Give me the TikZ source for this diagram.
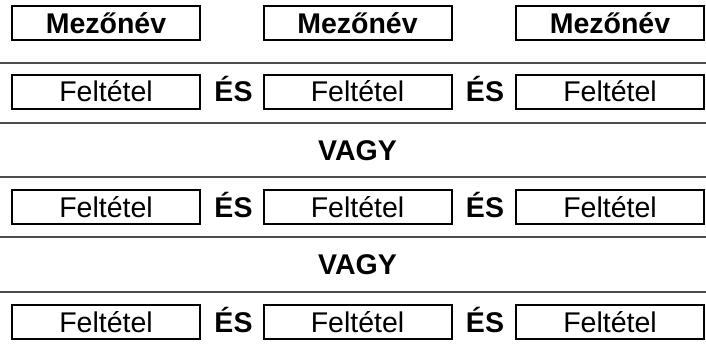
\documentclass[tikz,border=0pt]{standalone}
\usepackage{fontspec}
\setmainfont{Liberation Sans}
\begin{document}
\begin{tikzpicture}[
    x=1pt, y=-1pt,
    field/.style={draw, line width=2pt, minimum width=188pt, minimum height=34pt,
      inner sep=0pt, text height=20pt, text depth=0pt,
      font=\fontsize{28.5}{30}\selectfont\bfseries},
    cond/.style={field, font=\fontsize{28.5}{30}\selectfont},
    op/.style={inner sep=0pt, text height=20pt, text depth=0pt,
      font=\fontsize{28.5}{30}\selectfont\bfseries},
    sep/.style={line width=2pt, black!70}
  ]
  \useasboundingbox (0,0) rectangle (706,350);
  \node[field] (m1) at (106,23.5) {Mezőnév};
  \node[field] (m2) at (357.5,23.5) {Mezőnév};
  \node[field] (m3) at (610,23.5) {Mezőnév};
  \draw[sep] (0,63) -- (706,63);
  \node[cond] (a1) at (106,92) {Feltétel};
  \node[op] (ea1) at (233.5,92) {ÉS};
  \node[cond] (a2) at (357.5,92) {Feltétel};
  \node[op] (ea2) at (485,92) {ÉS};
  \node[cond] (a3) at (610,92) {Feltétel};
  \draw[sep] (0,123) -- (706,123);
  \node[op] (or1) at (357.5,150) {VAGY};
  \draw[sep] (0,177) -- (706,177);
  \node[cond] (b1) at (106,207) {Feltétel};
  \node[op] (eb1) at (233.5,207) {ÉS};
  \node[cond] (b2) at (357.5,207) {Feltétel};
  \node[op] (eb2) at (485,207) {ÉS};
  \node[cond] (b3) at (610,207) {Feltétel};
  \draw[sep] (0,237) -- (706,237);
  \node[op] (or2) at (357.5,264) {VAGY};
  \draw[sep] (0,292) -- (706,292);
  \node[cond] (c1) at (106,322) {Feltétel};
  \node[op] (ec1) at (233.5,322) {ÉS};
  \node[cond] (c2) at (357.5,322) {Feltétel};
  \node[op] (ec2) at (485,322) {ÉS};
  \node[cond] (c3) at (610,322) {Feltétel};
\end{tikzpicture}
\end{document}
